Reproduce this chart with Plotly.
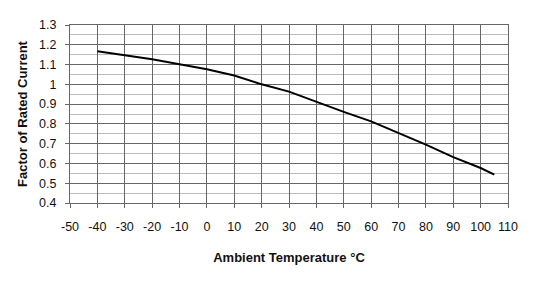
import plotly.graph_objects as go

temps = [-40, -30, -20, -10, 0, 10, 20, 30, 40, 50, 60, 70, 80, 90, 100, 105]
factor = [1.167, 1.147, 1.127, 1.102, 1.076, 1.045, 1.0, 0.963, 0.91, 0.861, 0.813, 0.755, 0.695, 0.632, 0.577, 0.543]

x_ticks = list(range(-50, 111, 10))
y_ticks = [round(0.4 + 0.1 * i, 1) for i in range(10)]
y_labels = ["0.4", "0.5", "0.6", "0.7", "0.8", "0.9", "1", "1.1", "1.2", "1.3"]

fig = go.Figure()
fig.add_trace(go.Scatter(x=temps, y=factor, mode="lines",
                         line=dict(color="black", width=2), showlegend=False))

fig.update_layout(
    width=540, height=284,
    margin=dict(l=70, r=32, t=25, b=81),
    paper_bgcolor="white", plot_bgcolor="white",
    font=dict(family="Liberation Sans, Arial, sans-serif", size=12, color="#111111"),
)
fig.update_xaxes(
    range=[-50, 110], tickvals=x_ticks, ticktext=[str(v) for v in x_ticks],
    showgrid=True, gridcolor="#666666", gridwidth=1,
    showline=True, linecolor="#666666", mirror=True,
    ticks="outside", ticklen=4, tickcolor="#666666",
    ticklabelstandoff=8,
    zeroline=False, tickfont=dict(size=12.5),
    title=dict(text="<b>Ambient Temperature °C</b>", font=dict(size=13), standoff=19),
)
fig.update_yaxes(
    range=[0.4, 1.3], tickvals=y_ticks, ticktext=y_labels,
    showgrid=True, gridcolor="#666666", gridwidth=1,
    minor=dict(dtick=0.05, showgrid=True, gridcolor="#bbbbbb", gridwidth=1),
    showline=True, linecolor="#666666", mirror=True,
    ticks="outside", ticklen=4, tickcolor="#666666",
    ticklabelstandoff=6,
    zeroline=False, tickfont=dict(size=12.5),
    title=dict(text="<b>Factor of Rated Current</b>", font=dict(size=13), standoff=8),
)

fig.write_html("out.html")
